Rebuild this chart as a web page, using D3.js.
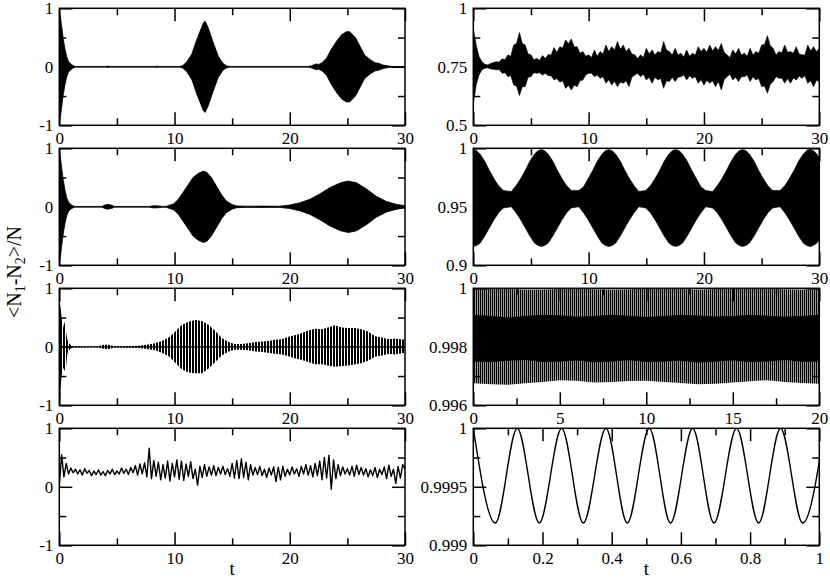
<!DOCTYPE html>
<html><head><meta charset="utf-8">
<script src="https://cdn.jsdelivr.net/npm/d3@7"></script>
<style>
body{margin:0;background:#fff;}
</style></head><body>
<svg id="c" width="830" height="586"></svg>
<script>
// ---------------- DATA ----------------
// Left column tick values / labels
const leftXMajor = [0, 10, 20, 30];
const leftXLabels = ["0", "10", "20", "30"];
const leftXMinor = [5, 15, 25];
const leftYMajor = [-1, 0, 1];
const leftYLabels = ["-1", "0", "1"];
const leftYMinor = [-0.5, 0.5];

// Right column tick values / labels
const r1YMajor = [0.5, 0.75, 1], r1YLabels = ["0.5", "0.75", "1"], r1YMinor = [0.625, 0.875];
const r2YMajor = [0.9, 0.95, 1], r2YLabels = ["0.9", "0.95", "1"], r2YMinor = [0.925, 0.975];
const r3YMajor = [0.996, 0.998, 1], r3YLabels = ["0.996", "0.998", "1"], r3YMinor = [0.997, 0.999];
const r3XMajor = [0, 5, 10, 15, 20], r3XLabels = ["0", "5", "10", "15", "20"], r3XMinor = [2.5, 7.5, 12.5, 17.5];
const r4YMajor = [0.999, 0.9995, 1], r4YLabels = ["0.999", "0.9995", "1"], r4YMinor = [0.99925, 0.99975];
const r4XMajor = [0, 0.2, 0.4, 0.6, 0.8, 1], r4XLabels = ["0", "0.2", "0.4", "0.6", "0.8", "1"], r4XMinor = [0.1, 0.3, 0.5, 0.7, 0.9];

// Left panel 1: envelope amplitude of the fast oscillation
const L1T = [0,0.1,0.2,0.35,0.5,0.65,0.8,1.0,1.2,1.4, 4.0,4.2,4.4, 8.3,8.5,8.7,
  10.4,10.7,11.05,11.5,11.9,12.2,12.5,12.65,12.9,13.35,13.8,14.2,14.5,14.8,
  21.6,21.9,22.3,22.5,22.8,23.2,23.6,24.1,24.5,24.9,25.2,25.7,26.1,26.5,27.0,27.4,27.7,28.1,28.6,29.0,30];
const L1Amp = [0.97,0.85,0.7,0.47,0.3,0.17,0.09,0.05,0.02,0.006, 0.006,0.012,0.006, 0.006,0.01,0.006,
  0.006,0.02,0.08,0.22,0.45,0.6,0.75,0.78,0.68,0.42,0.18,0.06,0.02,0.006,
  0.006,0.02,0.05,0.04,0.07,0.15,0.3,0.45,0.55,0.6,0.6,0.5,0.35,0.2,0.12,0.07,0.06,0.03,0.012,0.006,0.006];

// Left panel 2
const L2T = [0,0.1,0.2,0.35,0.5,0.65,0.8,1.0,1.2,1.4, 3.7,4.0,4.2,4.5,4.8, 7.8,8.2,8.6,9.0,
  9.3,9.9,10.3,10.75,11.2,11.6,12.05,12.5,12.8,13.2,13.65,14.1,14.5,15.0,15.4,16.3,17.5,19.1,
  20.0,20.9,21.75,22.6,23.5,24.4,25.1,25.8,26.7,27.5,28.4,29.3,30];
const L2Amp = [0.97,0.85,0.68,0.45,0.28,0.15,0.08,0.04,0.015,0.006, 0.006,0.035,0.04,0.03,0.006, 0.006,0.02,0.015,0.006,
  0.01,0.05,0.12,0.25,0.38,0.5,0.57,0.61,0.59,0.5,0.35,0.2,0.1,0.04,0.015,0.01,0.012,0.01,
  0.03,0.07,0.13,0.22,0.33,0.41,0.44,0.41,0.3,0.18,0.09,0.04,0.02];

// Left panel 3 (resolved oscillation): upper / lower envelope
const L3T = [0,0.08,0.15,0.3,0.45,0.55,0.7,0.9,1.1, 3.3,3.8,4.2,4.8,5.4,
  6.85,7.7,8.3,8.9,9.5,10.0,10.6,11.2,11.8,12.4,12.9,13.5,14.1,14.7,15.2,15.8,16.4,17.0,17.6,18.1,
  18.7,19.3,19.9,20.5,21.0,21.6,22.2,22.8,23.3,23.9,24.5,25.1,25.7,26.2,26.8,27.4,28.0,28.6,29.1,30];
const L3Hi = [0.3,0.73,0.6,0.3,0.43,0.3,0.12,0.05,0.01, 0.006,0.035,0.04,0.01,0.01,
  0.02,0.04,0.06,0.1,0.16,0.25,0.37,0.43,0.46,0.44,0.38,0.28,0.15,0.08,0.05,0.05,0.06,0.08,0.09,0.1,
  0.12,0.13,0.17,0.2,0.23,0.28,0.31,0.3,0.33,0.37,0.33,0.32,0.32,0.3,0.26,0.18,0.16,0.13,0.14,0.12];
const L3Lo = [-1.0,-0.9,-0.6,-0.35,-0.4,-0.42,-0.12,-0.05,-0.01, -0.006,-0.035,-0.04,-0.01,-0.01,
  -0.02,-0.04,-0.06,-0.1,-0.16,-0.26,-0.38,-0.44,-0.45,-0.45,-0.38,-0.27,-0.15,-0.08,-0.05,-0.05,-0.06,-0.08,-0.09,-0.1,
  -0.12,-0.13,-0.16,-0.2,-0.22,-0.26,-0.3,-0.3,-0.32,-0.34,-0.33,-0.32,-0.3,-0.28,-0.24,-0.17,-0.15,-0.12,-0.13,-0.1];

// Left panel 4: noisy signal sampled every 0.2 from t=0 to 30
const L4Step = 0.2;
const L4V = [0.0,0.55,0.17,0.40,0.22,0.32,0.24,0.30,0.22,0.29,0.20,0.31,0.23,0.28,0.19,0.27,0.21,0.29,0.20,0.26,
  0.19,0.28,0.22,0.30,0.21,0.27,0.22,0.32,0.23,0.30,0.21,0.33,0.24,0.36,0.20,0.39,0.22,0.41,0.17,0.66,
  0.14,0.45,0.18,0.42,0.12,0.38,0.15,0.44,0.10,0.40,0.17,0.46,0.13,0.44,0.11,0.39,0.18,0.43,0.14,0.30,
  0.03,0.35,0.16,0.38,0.18,0.34,0.20,0.36,0.19,0.33,0.22,0.35,0.21,0.31,0.18,0.40,0.15,0.45,0.14,0.48,
  0.16,0.42,0.12,0.38,0.20,0.33,0.21,0.35,0.19,0.30,0.16,0.32,0.20,0.34,0.09,0.33,0.12,0.35,0.18,0.30,
  0.20,0.34,0.22,0.31,0.18,0.35,0.22,0.38,0.20,0.36,0.17,0.40,0.19,0.44,0.12,0.50,0.15,0.54,-0.04,0.46,
  0.14,0.38,0.19,0.34,0.22,0.31,0.20,0.35,0.18,0.37,0.21,0.33,0.20,0.31,0.17,0.29,0.19,0.33,0.16,0.30,
  0.21,0.34,0.14,0.37,0.18,0.30,0.06,0.35,0.15,0.38,0.30];

// Right panel 1: envelope of the oscillation, sampled every 0.25 from t=0 to 30
const R1Step = 0.25;
const R1Hi = [0.915,0.843,0.793,0.772,0.761,0.758,0.764,0.768,
  0.772,0.770,0.784,0.780, 0.801,0.795,0.843,0.850, 0.897,0.850,0.843,0.805, 0.801,0.780,0.786,0.778,
  0.798,0.785,0.803,0.800, 0.832,0.812,0.836,0.830, 0.865,0.848,0.869,0.835, 0.836,0.808,0.815,0.795,
  0.801,0.790,0.822,0.795, 0.815,0.805,0.843,0.815, 0.836,0.822,0.858,0.825, 0.843,0.815,0.829,0.805,
  0.801,0.785,0.801,0.790, 0.829,0.805,0.822,0.800, 0.815,0.810,0.858,0.822, 0.815,0.800,0.829,0.800,
  0.808,0.792,0.822,0.795, 0.808,0.800,0.836,0.815, 0.829,0.812,0.843,0.818, 0.836,0.820,0.850,0.812,
  0.801,0.790,0.822,0.805, 0.829,0.800,0.808,0.795, 0.829,0.800,0.815,0.808, 0.843,0.845,0.883,0.840,
  0.829,0.800,0.815,0.810, 0.843,0.812,0.815,0.808, 0.836,0.805,0.801,0.800, 0.843,0.818,0.836,0.815,
  0.829];
const R1Lo = [0.590,0.672,0.715,0.737,0.744,0.746,0.741,0.739,
  0.737,0.738,0.722,0.725, 0.708,0.712,0.672,0.668, 0.627,0.665,0.665,0.705, 0.708,0.725,0.722,0.725,
  0.715,0.722,0.712,0.712, 0.694,0.700,0.684,0.690, 0.658,0.670,0.651,0.672, 0.665,0.690,0.694,0.715,
  0.722,0.722,0.708,0.715, 0.701,0.708,0.680,0.695, 0.672,0.688,0.665,0.685, 0.680,0.690,0.665,0.705,
  0.715,0.722,0.708,0.718, 0.694,0.705,0.680,0.705, 0.694,0.700,0.658,0.690, 0.687,0.705,0.687,0.705,
  0.708,0.715,0.694,0.712, 0.701,0.708,0.680,0.695, 0.672,0.692,0.680,0.690, 0.665,0.688,0.651,0.695,
  0.708,0.718,0.694,0.705, 0.687,0.708,0.708,0.715, 0.687,0.708,0.694,0.700, 0.665,0.668,0.637,0.675,
  0.687,0.708,0.701,0.702, 0.680,0.700,0.680,0.702, 0.694,0.710,0.701,0.712, 0.680,0.690,0.665,0.692,
  0.687];

// Right panel 2: envelope of the oscillation
const R2T = [0,0.3,0.6,1.0,1.4,1.8,2.2,2.6, 3.3,3.7,4.1,4.5,4.9,5.3,5.6,5.9, 6.2,6.5,6.9,7.3,7.7,8.1,8.5,
  9.15,9.55,9.95,10.35,10.75,11.15,11.45,11.75, 12.05,12.35,12.75,13.15,13.55,13.95,14.35,
  14.95,15.35,15.75,16.15,16.55,16.95,17.25,17.55, 17.85,18.15,18.55,18.95,19.35,19.75,20.15,
  20.75,21.15,21.55,21.95,22.35,22.75,23.05,23.35, 23.65,23.95,24.35,24.75,25.15,25.55,25.95,
  26.6,27.0,27.4,27.8,28.2,28.6,28.9,29.2, 29.5,29.8,30];
const R2Hi = [0.999,0.998,0.995,0.989,0.981,0.974,0.968,0.964, 0.963,0.968,0.974,0.981,0.989,0.995,0.998,0.999,
  0.998,0.995,0.989,0.981,0.974,0.968,0.964, 0.964,0.967,0.974,0.981,0.989,0.995,0.998,0.999,
  0.998,0.995,0.989,0.981,0.974,0.968,0.963, 0.964,0.968,0.974,0.981,0.989,0.995,0.998,0.999,
  0.998,0.995,0.989,0.981,0.974,0.967,0.964, 0.963,0.968,0.974,0.981,0.989,0.995,0.998,0.999,
  0.998,0.995,0.989,0.981,0.974,0.968,0.964, 0.964,0.968,0.974,0.981,0.989,0.995,0.998,0.999,
  0.998,0.995,0.992];
const R2Lo = [0.916,0.917,0.919,0.925,0.932,0.939,0.945,0.949, 0.950,0.945,0.939,0.932,0.925,0.919,0.917,0.916,
  0.917,0.919,0.925,0.932,0.939,0.945,0.949, 0.950,0.945,0.939,0.932,0.925,0.919,0.917,0.916,
  0.917,0.919,0.925,0.932,0.939,0.945,0.950, 0.949,0.945,0.939,0.932,0.925,0.919,0.917,0.916,
  0.917,0.919,0.925,0.932,0.939,0.945,0.950, 0.949,0.945,0.939,0.932,0.925,0.919,0.917,0.916,
  0.917,0.919,0.925,0.932,0.939,0.945,0.949, 0.950,0.945,0.939,0.932,0.925,0.919,0.917,0.916,
  0.917,0.919,0.922];

// Right panel 3: outer envelope and dense core
const R3T = [0,1,2,3,4,5,6,7,8,9,10,11,12,13,14,15,16,17,18,19,20];
const R3Hi = [1,1,0.99998,0.99996,0.99996,0.99998,1,0.99997,0.99996,0.99997,1,1,0.99998,0.99996,0.99998,1,1,0.99998,0.99997,0.99996,0.99998];
const R3Lo = [0.99675,0.99672,0.99670,0.99675,0.99680,0.99686,0.99684,0.99678,0.99680,0.99683,0.99684,0.99680,0.99676,0.99672,0.99674,0.99678,0.99682,0.99686,0.99680,0.99676,0.99674];
const R3CoreHi = [0.9991,0.99905,0.9990,0.99905,0.9991,0.99908,0.99903,0.99905,0.9991,0.99906,0.99902,0.99905,0.9991,0.99907,0.99904,0.99905,0.9991,0.99906,0.99903,0.99905,0.9991];
const R3CoreLo = [0.9975,0.99748,0.99752,0.99755,0.99748,0.9975,0.99753,0.99747,0.9975,0.99754,0.99748,0.9975,0.99752,0.99746,0.9975,0.99753,0.99748,0.9975,0.99755,0.99749,0.9975];

// Right panel 4: extrema of the slow oscillation
const R4T = [0,0.0636,0.127,0.1908,0.2553,0.3179,0.3834,0.445,0.5087,0.570,0.634,0.6956,0.761,0.8247,0.888,0.952,1.015];
const R4V = [1,0.99919,1,0.99919,1,0.99919,1,0.99919,1,0.99919,1,0.99919,1,0.99919,1,0.99919,1];

// ---------------- DRAWING ----------------
const FONT = "Liberation Serif";
const svg = d3.select("#c");
const defs = svg.append("defs");
defs.append("pattern").attr("id","hatch3").attr("patternUnits","userSpaceOnUse").attr("width",3).attr("height",8)
  .append("rect").attr("width",2).attr("height",8).attr("fill","#000");
defs.append("pattern").attr("id","hatch2").attr("patternUnits","userSpaceOnUse").attr("width",2).attr("height",8)
  .append("rect").attr("width",1.4).attr("height",8).attr("fill","#000");

const colX = [[59.3,405],[473.3,819.3]];
const rowTop = [8.3,148.3,288.3,428.3];
const PH = 117;

function idx(a){ return d3.range(a.length); }

function panel(col,row,cfg){
  const [x0,x1] = colX[col];
  const y0 = rowTop[row], y1 = y0+PH;
  const x = d3.scaleLinear().domain(cfg.xDomain).range([x0,x1]);
  const y = d3.scaleLinear().domain(cfg.yDomain).range([y1,y0]);
  const id = "clip"+col+"_"+row;
  defs.append("clipPath").attr("id",id).append("rect").attr("x",x0).attr("y",y0).attr("width",x1-x0).attr("height",PH);
  const g = svg.append("g");
  const dg = g.append("g").attr("clip-path",`url(#${id})`);
  cfg.draw(dg,x,y);

  const ax = (axis,tx,ty)=>{
    const a = g.append("g").attr("transform",`translate(${tx},${ty})`).call(axis);
    a.select(".domain").remove();
    a.selectAll("line").attr("stroke","#000").attr("stroke-width",1.5);
    a.selectAll("text").style("font-family",FONT).style("font-size","17px").attr("fill","#000");
    return a;
  };
  const fx = d => cfg.xLabels[cfg.xMajor.indexOf(d)];
  const fy = d => cfg.yLabels[cfg.yMajor.indexOf(d)];
  ax(d3.axisBottom(x).tickValues(cfg.xMajor).tickSize(-13).tickPadding(7).tickFormat(fx),0,y1);
  ax(d3.axisBottom(x).tickValues(cfg.xMinor).tickSize(-7).tickFormat(""),0,y1);
  ax(d3.axisTop(x).tickValues(cfg.xMajor).tickSize(-13).tickFormat(""),0,y0);
  ax(d3.axisTop(x).tickValues(cfg.xMinor).tickSize(-7).tickFormat(""),0,y0);
  ax(d3.axisLeft(y).tickValues(cfg.yMajor).tickSize(-13).tickPadding(6).tickFormat(fy),x0,0);
  ax(d3.axisLeft(y).tickValues(cfg.yMinor).tickSize(-7).tickFormat(""),x0,0);
  ax(d3.axisRight(y).tickValues(cfg.yMajor).tickSize(-13).tickFormat(""),x1,0);
  ax(d3.axisRight(y).tickValues(cfg.yMinor).tickSize(-7).tickFormat(""),x1,0);

  g.append("rect").attr("x",x0).attr("y",y0).attr("width",x1-x0).attr("height",PH)
    .attr("fill","none").attr("stroke","#000").attr("stroke-width",1.5);
}

function symEnvelope(T,A,fill){
  return (g,x,y)=>{
    g.append("path").datum(idx(T))
      .attr("d", d3.area().x(i=>x(T[i])).y0(i=>y(-A[i])).y1(i=>y(A[i])))
      .attr("fill",fill).attr("stroke","#000").attr("stroke-width",0.8);
  };
}
function band(tx,n,Lo,Hi,fill,strokeW){
  return (g,x,y)=>{
    g.append("path").datum(d3.range(n))
      .attr("d", d3.area().x(i=>x(tx(i))).y0(i=>y(Lo[i])).y1(i=>y(Hi[i])))
      .attr("fill",fill).attr("stroke",strokeW? "#000":"none").attr("stroke-width",strokeW||0);
  };
}

const leftCfg = {xDomain:[0,30], yDomain:[-1,1], xMajor:leftXMajor, xLabels:leftXLabels, xMinor:leftXMinor,
  yMajor:leftYMajor, yLabels:leftYLabels, yMinor:leftYMinor};

panel(0,0,Object.assign({},leftCfg,{draw:symEnvelope(L1T,L1Amp,"#000")}));
panel(0,1,Object.assign({},leftCfg,{draw:symEnvelope(L2T,L2Amp,"#000")}));
panel(0,2,Object.assign({},leftCfg,{draw:(g,x,y)=>{
  g.append("path").datum([leftXMajor[0], leftXMajor[leftXMajor.length-1]])
    .attr("d", d3.line().x(d=>x(d)).y(()=>y(0))).attr("stroke","#000").attr("stroke-width",1.2);
  band(i=>L3T[i],L3T.length,L3Lo,L3Hi,"url(#hatch3)",0)(g,x,y);
}}));
panel(0,3,Object.assign({},leftCfg,{draw:(g,x,y)=>{
  g.append("path").datum(idx(L4V))
    .attr("d", d3.line().x(i=>x(i*L4Step)).y(i=>y(L4V[i])))
    .attr("fill","none").attr("stroke","#000").attr("stroke-width",1.4).attr("stroke-linejoin","round");
}}));

panel(1,0,{xDomain:[0,30], yDomain:[0.5,1], xMajor:leftXMajor, xLabels:leftXLabels, xMinor:leftXMinor,
  yMajor:r1YMajor, yLabels:r1YLabels, yMinor:r1YMinor, draw:band(i=>i*R1Step,R1Hi.length,R1Lo,R1Hi,"#000",0.6)});
panel(1,1,{xDomain:[0,30], yDomain:[0.9,1], xMajor:leftXMajor, xLabels:leftXLabels, xMinor:leftXMinor,
  yMajor:r2YMajor, yLabels:r2YLabels, yMinor:r2YMinor, draw:band(i=>R2T[i],R2T.length,R2Lo,R2Hi,"#000",0.6)});
panel(1,2,{xDomain:[0,20], yDomain:[0.996,1], xMajor:r3XMajor, xLabels:r3XLabels, xMinor:r3XMinor,
  yMajor:r3YMajor, yLabels:r3YLabels, yMinor:r3YMinor, draw:(g,x,y)=>{
    band(i=>R3T[i],R3T.length,R3Lo,R3Hi,"url(#hatch2)",0)(g,x,y);
    band(i=>R3T[i],R3T.length,R3CoreLo,R3CoreHi,"#000",0)(g,x,y);
  }});
panel(1,3,{xDomain:[0,1], yDomain:[0.999,1], xMajor:r4XMajor, xLabels:r4XLabels, xMinor:r4XMinor,
  yMajor:r4YMajor, yLabels:r4YLabels, yMinor:r4YMinor, draw:(g,x,y)=>{
    g.append("path").datum(idx(R4T))
      .attr("d", d3.line().curve(d3.curveMonotoneX).x(i=>x(R4T[i])).y(i=>y(R4V[i])))
      .attr("fill","none").attr("stroke","#000").attr("stroke-width",1.4);
  }});

// axis titles
[232.2, 646.3].forEach(cx=>{
  svg.append("text").attr("x",cx).attr("y",575).attr("text-anchor","middle")
    .style("font-family",FONT).style("font-size","19px").text("t");
});

const yl = svg.append("text").attr("transform","translate(21,272) rotate(-90)")
  .attr("text-anchor","middle").style("font-family",FONT).style("font-size","20px");
yl.append("tspan").text("<N");
yl.append("tspan").style("font-size","14px").attr("dy",4).text("1");
yl.append("tspan").attr("dy",-4).text("-N");
yl.append("tspan").style("font-size","14px").attr("dy",4).text("2");
yl.append("tspan").attr("dy",-4).text(">/N");
</script>
</body></html>
